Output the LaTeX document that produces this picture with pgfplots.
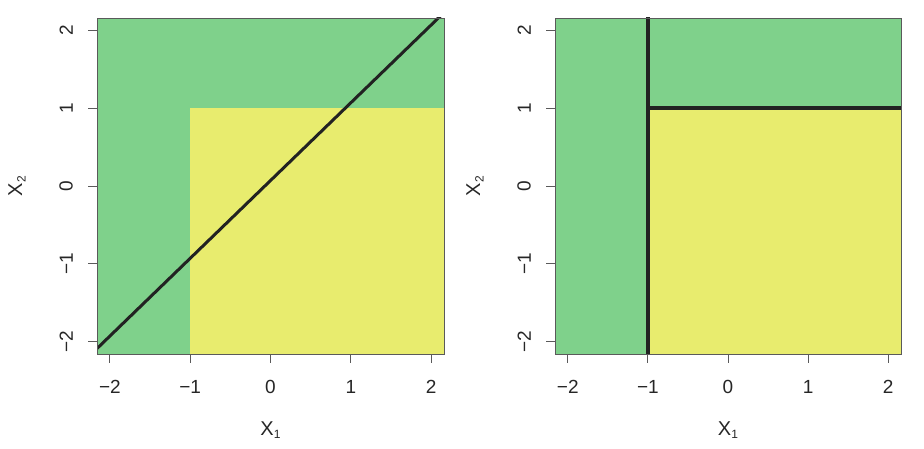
\documentclass[border=0pt]{standalone}
\usepackage{fontspec}
\setmainfont{Liberation Sans}
\usepackage{pgfplots}
\pgfplotsset{compat=1.18}
\definecolor{reggreen}{RGB}{127,209,139}
\definecolor{regyellow}{RGB}{232,236,110}
\definecolor{linedark}{RGB}{34,34,34}
\definecolor{framegray}{RGB}{90,90,90}
\newcommand{\Xs}[1]{X\raisebox{-0.35ex}{\fontsize{12}{13}\selectfont #1}}
\pgfplotsset{
  panel/.style={
    scale only axis,
    width=347pt, height=336pt,
    xmin=-2.16, xmax=2.16, ymin=-2.16, ymax=2.16,
    axis on top,
    axis line style={framegray, line width=0.9pt},
    xtick={-2,-1,0,1,2}, ytick={-2,-1,0,1,2},
    xticklabels={−2,−1,0,1,2}, yticklabels={−2,−1,0,1,2},
    tick align=outside,
    major tick length=9pt,
    xtick pos=bottom, ytick pos=left,
    tick style={framegray, line width=0.9pt},
    ticklabel style={font=\fontsize{19}{21}\selectfont, text=black!85},
    label style={font=\fontsize{20}{22}\selectfont, text=black!85},
    xticklabel style={anchor=north, inner sep=0pt},
    xticklabel shift=17pt,
    yticklabel style={rotate=90, anchor=south, inner sep=0pt},
    yticklabel shift=15pt,
    xlabel style={at={([yshift=-76pt]axis description cs:0.5,0)}, anchor=center},
    ylabel style={at={([xshift=-80pt]axis description cs:0,0.5)}, anchor=center, rotate=0},
    xlabel={\Xs{1}}, ylabel={\Xs{2}},
    clip=true,
  }
}
\begin{document}
\begin{tikzpicture}[x=1pt,y=1pt]
\path (0,0) rectangle (924,449);
\begin{axis}[panel, at={(97pt,95pt)}, anchor=south west]
  \addplot[draw=none, fill=reggreen] coordinates {(-2.16,-2.16) (2.16,-2.16) (2.16,2.16) (-2.16,2.16)} -- cycle;
  \addplot[draw=none, fill=regyellow] coordinates {(-1,-2.16) (2.16,-2.16) (2.16,1) (-1,1)} -- cycle;
  \addplot[linedark, line width=3pt] coordinates {(-2.2,-2.13) (2.12,2.19)};
\end{axis}
\begin{axis}[panel, at={(555pt,95pt)}, anchor=south west, width=346pt]
  \addplot[draw=none, fill=reggreen] coordinates {(-2.16,-2.16) (2.16,-2.16) (2.16,2.16) (-2.16,2.16)} -- cycle;
  \addplot[draw=none, fill=regyellow] coordinates {(-1,-2.16) (2.16,-2.16) (2.16,1) (-1,1)} -- cycle;
  \addplot[linedark, line width=3.5pt] coordinates {(-1,-2.2) (-1,2.2)};
  \addplot[linedark, line width=3.5pt] coordinates {(-1,1) (2.2,1)};
\end{axis}
\end{tikzpicture}
\end{document}
